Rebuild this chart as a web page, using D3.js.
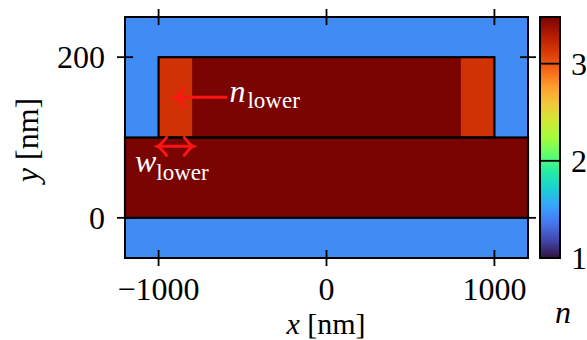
<!DOCTYPE html>
<html><head><meta charset="utf-8">
<script src="https://cdn.jsdelivr.net/npm/d3@7"></script>
<style>body{margin:0;background:#fff}svg{display:block}text{font-family:"Liberation Serif",serif;}</style>
</head><body><svg id="c" width="587" height="340"></svg>
<script>
// ---- data ----
const xDomain = [-1200, 1200];
const yDomain = [-50, 250];
const xTicks = [-1000, 0, 1000];
const yTicks = [0, 200];
const nDomain = [1, 3.48];
const cbTicks = [1, 2, 3];
// regions drawn in order
const regionNames = ["cladding", "slab", "ridge", "lowerLeft", "lowerRight"];
const regionX0 = [-1200, -1200, -1000, -1000, 800];
const regionX1 = [1200, 1200, 1000, -800, 1000];
const regionY0 = [-50, 0, 100, 100, 100];
const regionY1 = [250, 100, 200, 200, 200];
const regionN  = [1.44, 3.48, 3.48, 3.16, 3.16];
const regionOutlined = [false, true, true, false, false];
// turbo colormap stops
const turboStops = ['#30123b', '#4145ab', '#4675ed', '#39a2fc', '#1bcfd4', '#24eca6', '#61fc6c',
  '#a4fc3b', '#d1e834', '#f3c63a', '#fe9b2d', '#f36315', '#d93806', '#b11901', '#7a0402'];

// ---- layout ----
const svg = d3.select("#c");
const x = d3.scaleLinear().domain(xDomain).range([125, 528]);
const y = d3.scaleLinear().domain(yDomain).range([258, 17]);
const cbY = d3.scaleLinear().domain(nDomain).range([258, 17]);
const cbX0 = 540, cbX1 = 560;
const turbo = d3.piecewise(d3.interpolateRgb, turboStops);
const color = n => turbo((n - nDomain[0]) / (nDomain[1] - nDomain[0]));
const FS = 32;

const idx = d3.range(regionNames.length);
svg.append("g").selectAll("rect").data(idx).join("rect")
  .attr("x", i => x(regionX0[i])).attr("y", i => y(regionY1[i]))
  .attr("width", i => x(regionX1[i]) - x(regionX0[i]))
  .attr("height", i => y(regionY0[i]) - y(regionY1[i]))
  .attr("fill", i => color(regionN[i]));
svg.append("g").selectAll("rect").data(idx.filter(i => regionOutlined[i])).join("rect")
  .attr("x", i => x(regionX0[i])).attr("y", i => y(regionY1[i]))
  .attr("width", i => x(regionX1[i]) - x(regionX0[i]))
  .attr("height", i => y(regionY0[i]) - y(regionY1[i]))
  .attr("fill", "none").attr("stroke", "#000").attr("stroke-width", 2.2);

// frame
svg.append("rect").attr("x", x(xDomain[0])).attr("y", y(yDomain[1]))
  .attr("width", x(xDomain[1]) - x(xDomain[0])).attr("height", y(yDomain[0]) - y(yDomain[1]))
  .attr("fill", "none").attr("stroke", "#000").attr("stroke-width", 2);

// ticks
const tk = 8;
const g = svg.append("g").attr("stroke", "#000").attr("stroke-width", 1.8);
xTicks.forEach(v => {
  g.append("line").attr("x1", x(v)).attr("x2", x(v)).attr("y1", y(yDomain[0]) - tk).attr("y2", y(yDomain[0]) + tk);
  g.append("line").attr("x1", x(v)).attr("x2", x(v)).attr("y1", y(yDomain[1]) - tk).attr("y2", y(yDomain[1]) + tk);
});
yTicks.forEach(v => {
  g.append("line").attr("y1", y(v)).attr("y2", y(v)).attr("x1", x(xDomain[0]) - tk).attr("x2", x(xDomain[0]) + tk);
  g.append("line").attr("y1", y(v)).attr("y2", y(v)).attr("x1", x(xDomain[1]) - tk).attr("x2", x(xDomain[1]) + tk);
});
const fmt = v => v < 0 ? "\u2212" + Math.abs(v) : String(v);
svg.append("g").selectAll("text").data(xTicks).join("text")
  .attr("x", v => x(v)).attr("y", 300).attr("text-anchor", "middle")
  .attr("font-size", FS).text(fmt);
svg.append("g").selectAll("text").data(yTicks).join("text")
  .attr("x", 105).attr("y", v => y(v) + 11).attr("text-anchor", "end")
  .attr("font-size", FS).text(fmt);

// axis labels
const xl = svg.append("text").attr("x", 326).attr("y", 334).attr("text-anchor", "middle").attr("font-size", 30);
xl.append("tspan").attr("font-style", "italic").text("x");
xl.append("tspan").text(" [nm]");
const yl = svg.append("text").attr("transform", "translate(38,140) rotate(-90)").attr("text-anchor", "middle").attr("font-size", FS);
yl.append("tspan").attr("font-style", "italic").text("y");
yl.append("tspan").text(" [nm]");

// colorbar
const defs = svg.append("defs");
const grad = defs.append("linearGradient").attr("id", "cb").attr("x1", 0).attr("y1", 1).attr("x2", 0).attr("y2", 0);
turboStops.forEach((c, i) => grad.append("stop").attr("offset", i / (turboStops.length - 1)).attr("stop-color", c));
svg.append("rect").attr("x", cbX0).attr("y", cbY(nDomain[1])).attr("width", cbX1 - cbX0)
  .attr("height", cbY(nDomain[0]) - cbY(nDomain[1])).attr("fill", "url(#cb)")
  .attr("stroke", "#000").attr("stroke-width", 2);
cbTicks.filter(v => v > nDomain[0]).forEach(v => {
  svg.append("line").attr("x1", cbX0).attr("x2", cbX1).attr("y1", cbY(v)).attr("y2", cbY(v))
    .attr("stroke", "#000").attr("stroke-width", 1.8);
});
svg.append("g").selectAll("text").data(cbTicks).join("text")
  .attr("x", 571).attr("y", v => cbY(v) + 11).attr("font-size", FS).text(v => v);
svg.append("text").attr("x", 563).attr("y", 323).attr("text-anchor", "middle")
  .attr("font-size", FS).attr("font-style", "italic").text("n");

// annotations
const red = "#ff1414";
const ann = svg.append("g").attr("stroke", red).attr("stroke-width", 3).attr("fill", "none").attr("stroke-linecap", "round");
function head(tx, ty, dir) { // dir: -1 points left, +1 points right
  const b = -dir * 9, w = 9;
  return `M${tx + b},${ty - w} Q${tx + b * 0.3},${ty - 1} ${tx},${ty} Q${tx + b * 0.3},${ty + 1} ${tx + b},${ty + w}`;
}
// n_lower arrow
const a1y = y(150);
ann.append("line").attr("x1", x(-600)).attr("x2", x(-900) + 1).attr("y1", a1y).attr("y2", a1y);
ann.append("path").attr("d", head(x(-900), a1y, -1));
// w_lower double arrow
const a2y = y(89);
ann.append("line").attr("x1", x(-1000) + 1).attr("x2", x(-800) - 1).attr("y1", a2y).attr("y2", a2y);
ann.append("path").attr("d", head(x(-1000) - 1, a2y, -1));
ann.append("path").attr("d", head(x(-800) + 1, a2y, 1));

const t1 = svg.append("text").attr("x", x(-578)).attr("y", 102).attr("fill", "#fff").attr("font-size", FS);
t1.append("tspan").attr("font-style", "italic").text("n");
t1.append("tspan").attr("font-size", 23).attr("dx", 2).attr("dy", 6).text("lower");
const t2 = svg.append("text").attr("x", 135).attr("y", 172).attr("fill", "#fff").attr("font-size", FS);
t2.append("tspan").attr("font-style", "italic").text("w");
t2.append("tspan").attr("font-size", 23).attr("dy", 8).text("lower");
</script></body></html>
